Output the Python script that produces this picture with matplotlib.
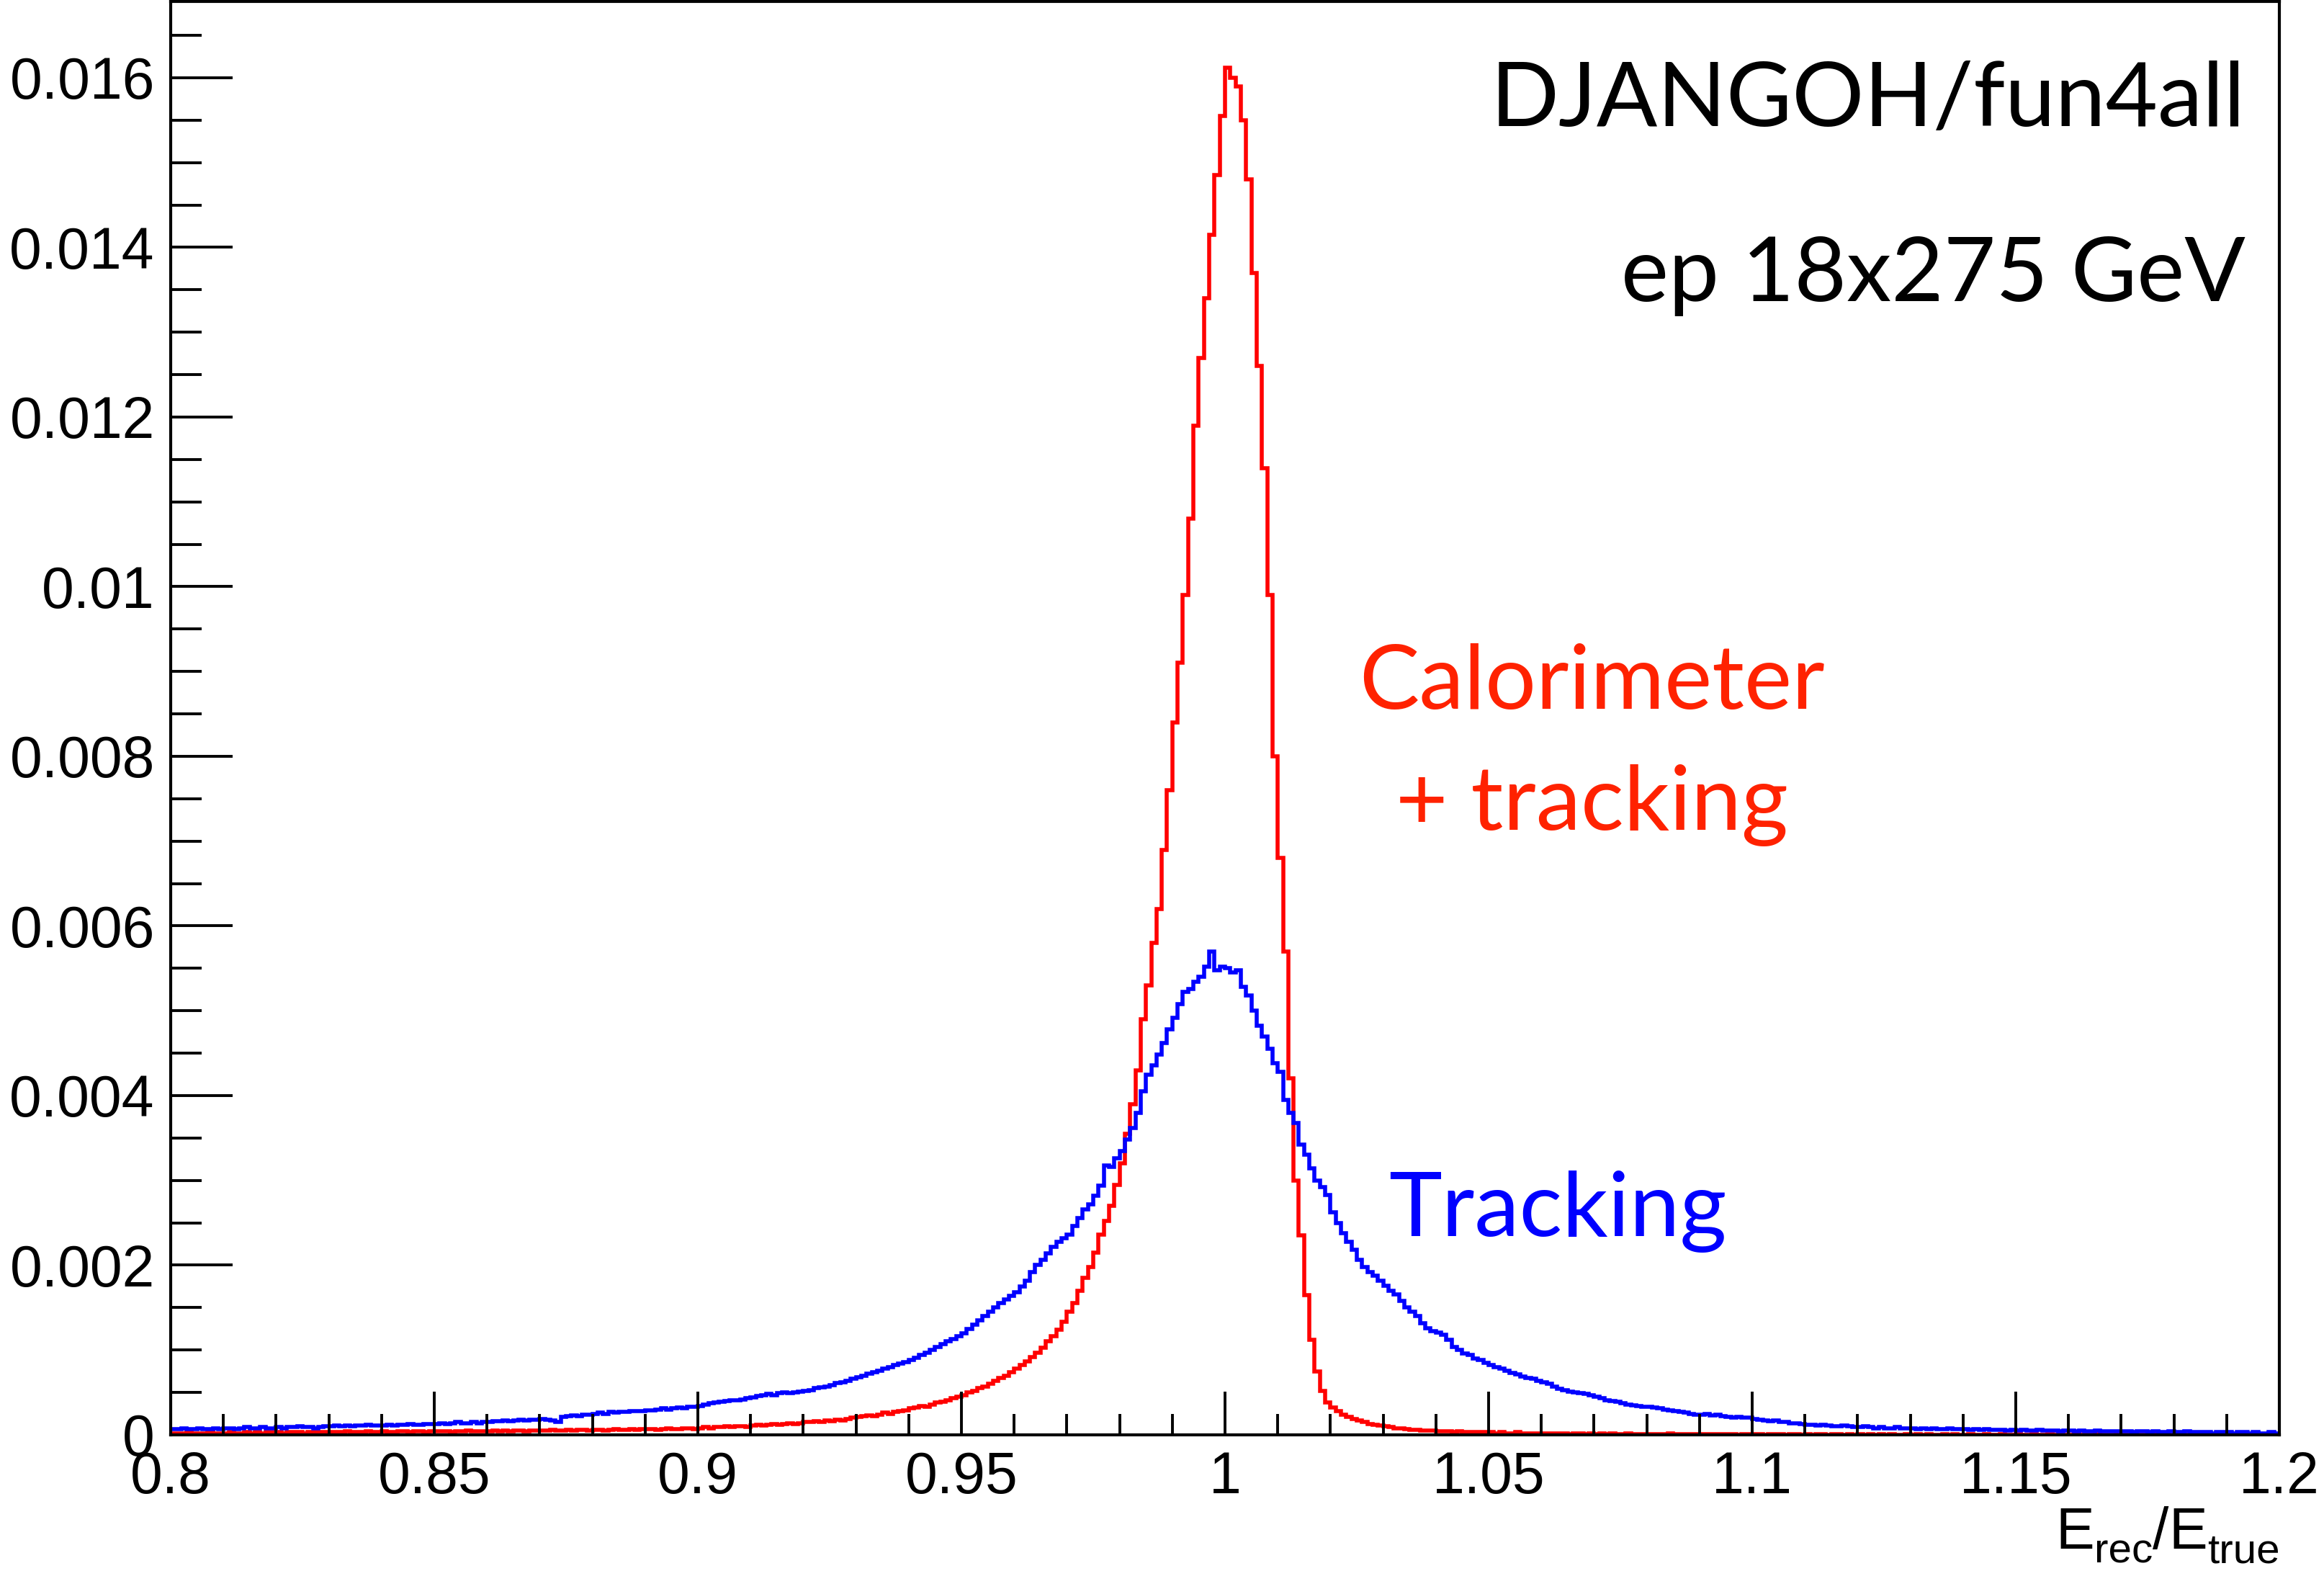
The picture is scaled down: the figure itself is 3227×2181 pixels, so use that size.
import numpy as np
import matplotlib
matplotlib.use("Agg")
import matplotlib.pyplot as plt
from matplotlib.transforms import IdentityTransform

# ---------------- data ----------------
x_range = (0.8, 1.2)
n_bins = 400
y_scale = 1e-5          # values below are given in units of 1e-5

# Calorimeter + tracking (red), one row = 0.01 in E_rec/E_true
calo_e5 = [
    2, 2, 2, 3, 2, 2, 2, 3, 2, 2,
    2, 3, 2, 2, 3, 2, 3, 2, 3, 3,
    3, 2, 3, 3, 3, 2, 3, 3, 3, 3,
    3, 3, 3, 4, 3, 3, 3, 4, 3, 3,
    4, 3, 3, 4, 4, 3, 4, 4, 3, 4,
    4, 4, 4, 3, 4, 4, 5, 4, 4, 4,
    4, 5, 4, 5, 4, 5, 5, 4, 5, 5,
    5, 5, 6, 5, 5, 6, 5, 6, 6, 5,
    6, 6, 5, 6, 7, 6, 6, 7, 6, 7,
    7, 7, 6, 7, 8, 7, 7, 8, 8, 7,
    8, 9, 8, 9, 9, 10, 9, 10, 10, 9,
    11, 12, 11, 12, 13, 12, 13, 14, 13, 14,
    15, 15, 16, 15, 17, 16, 18, 17, 19, 20,
    21, 22, 23, 22, 24, 26, 25, 27, 28, 29,
    31, 32, 34, 33, 36, 38, 39, 41, 43, 45,
    47, 50, 52, 55, 57, 60, 64, 67, 70, 74,
    78, 82, 87, 92, 97, 103, 110, 116, 124, 133,
    145, 155, 170, 185, 198, 215, 236, 252, 270, 295,
    320, 355, 390, 430, 490, 530, 580, 620, 690, 760,
    840, 910, 990, 1080, 1190, 1270, 1340, 1415, 1485, 1555,
    1612, 1600, 1590, 1550, 1480, 1370, 1260, 1140, 990, 800,
    680, 570, 420, 300, 235, 165, 112, 75, 52, 38,
    32, 28, 24, 21, 19, 17, 15, 13, 12, 11,
    10, 9, 8, 8, 7, 6, 6, 5, 5, 5,
    4, 4, 4, 3, 4, 3, 3, 3, 3, 3,
    3, 2, 3, 2, 2, 3, 2, 2, 2, 2,
    2, 2, 2, 2, 2, 1, 2, 2, 1, 2,
    1, 2, 1, 2, 1, 1, 2, 1, 1, 1,
    1, 1, 1, 1, 2, 1, 1, 1, 1, 1,
    1, 1, 1, 1, 1, 1, 1, 0, 1, 1,
    1, 1, 0, 1, 1, 1, 0, 1, 1, 0,
    1, 0, 1, 1, 0, 1, 1, 0, 1, 0,
    1, 0, 1, 0, 1, 0, 1, 0, 0, 1,
    0, 1, 0, 1, 0, 0, 1, 0, 1, 0,
    0, 1, 0, 0, 1, 0, 0, 1, 0, 0,
    1, 0, 0, 1, 0, 0, 1, 0, 0, 0,
    0, 1, 0, 0, 0, 1, 0, 0, 0, 1,
    0, 0, 1, 0, 0, 0, 1, 0, 0, 0,
    0, 0, 0, 1, 0, 0, 0, 0, 1, 0,
    0, 0, 0, 0, 1, 0, 0, 0, 0, 0,
]

# Tracking (blue)
track_e5 = [
    7, 7, 8, 7, 7, 8, 7, 7, 8, 7,
    8, 8, 7, 8, 9, 8, 8, 9, 8, 8,
    9, 8, 9, 9, 10, 9, 9, 8, 9, 10,
    10, 11, 10, 11, 10, 11, 11, 12, 11, 11,
    11, 12, 11, 12, 12, 13, 12, 12, 13, 13,
    13, 14, 13, 14, 15, 14, 14, 15, 14, 15,
    15, 16, 16, 17, 16, 17, 18, 17, 18, 18,
    19, 18, 17, 15, 21, 22, 23, 22, 24, 24,
    25, 26, 25, 27, 26, 27, 27, 28, 28, 28,
    29, 29, 30, 31, 30, 31, 32, 31, 33, 33,
    34, 36, 37, 38, 39, 40, 41, 41, 42, 43,
    44, 46, 47, 48, 47, 49, 50, 49, 50, 51,
    52, 53, 55, 56, 57, 59, 61, 62, 64, 66,
    68, 70, 72, 74, 76, 78, 80, 82, 84, 86,
    88, 91, 94, 97, 100, 104, 107, 110, 113, 116,
    120, 125, 130, 135, 140, 145, 150, 155, 160, 164,
    168, 175, 182, 192, 200, 206, 214, 222, 228, 232,
    236, 246, 256, 266, 272, 282, 294, 318, 316, 326,
    335, 348, 362, 380, 405, 425, 436, 448, 462, 478,
    492, 508, 522, 526, 534, 540, 552, 570, 548, 552,
    550, 545, 548, 528, 518, 500, 482, 470, 455, 438,
    428, 395, 380, 368, 342, 330, 314, 300, 292, 283,
    262, 250, 238, 228, 218, 206, 198, 192, 188, 182,
    176, 170, 166, 158, 150, 145, 140, 132, 126, 122,
    121, 118, 112, 104, 100, 96, 94, 90, 88, 85,
    82, 80, 78, 76, 73, 71, 69, 67, 66, 64,
    62, 60, 57, 54, 53, 51, 50, 49, 48, 47,
    45, 43, 41, 40, 39, 37, 36, 35, 34, 33,
    33, 32, 31, 30, 29, 28, 27, 26, 25, 24,
    24, 25, 23, 24, 22, 21, 20, 21, 20, 20,
    19, 18, 17, 16, 17, 15, 15, 14, 14, 13,
    12, 12, 11, 12, 11, 10, 10, 11, 10, 9,
    9, 10, 9, 8, 9, 8, 8, 9, 8, 8,
    8, 7, 8, 7, 8, 7, 7, 8, 7, 7,
    7, 6, 7, 6, 7, 6, 6, 6, 5, 6,
    5, 6, 5, 5, 6, 5, 5, 5, 4, 5,
    5, 4, 5, 4, 4, 5, 4, 4, 4, 4,
    4, 4, 3, 4, 4, 3, 4, 3, 3, 4,
    3, 3, 4, 3, 3, 3, 3, 2, 3, 3,
    3, 2, 3, 3, 2, 3, 2, 2, 3, 2,
]

x_ticks = [0.8, 0.85, 0.9, 0.95, 1.0, 1.05, 1.1, 1.15, 1.2]
x_ticklabels = ["0.8", "0.85", "0.9", "0.95", "1", "1.05", "1.1", "1.15", "1.2"]
y_ticks = [0, 0.002, 0.004, 0.006, 0.008, 0.01, 0.012, 0.014, 0.016]
y_ticklabels = ["0", "0.002", "0.004", "0.006", "0.008", "0.01", "0.012", "0.014", "0.016"]
y_max = 0.0169

# ---------------- plot ----------------
W, H = 3227, 2181
fig = plt.figure(figsize=(W / 100, H / 100), dpi=100)
ax = fig.add_axes([237 / W, 1 - 1992 / H, (3165 - 237) / W, (1992 - 2) / H])

edges = np.linspace(x_range[0], x_range[1], n_bins + 1)
calo = np.array(calo_e5) * y_scale
track = np.array(track_e5) * y_scale

ax.stairs(calo, edges, baseline=None, color="#ff0000", lw=4.0)
ax.stairs(track, edges, baseline=None, color="#0000ff", lw=4.0)

ax.set_xlim(*x_range)
ax.set_ylim(0, y_max)

tick_font = dict(family=["Liberation Sans", "DejaVu Sans"], size=58)
ax.set_xticks(x_ticks)
ax.set_xticklabels(x_ticklabels, fontdict=tick_font)
ax.set_yticks(y_ticks)
ax.set_yticklabels(y_ticklabels, fontdict=tick_font)
ax.set_xticks(np.arange(0.8, 1.2001, 0.01), minor=True)
ax.set_yticks(np.arange(0, 0.0169, 0.0005), minor=True)

ax.tick_params(axis="x", which="major", direction="in", length=43, width=2.8, pad=16,
               top=False)
ax.tick_params(axis="x", which="minor", direction="in", length=21, width=2.8, top=False)
ax.tick_params(axis="y", which="major", direction="in", length=62, width=2.8, pad=16,
               right=False)
ax.tick_params(axis="y", which="minor", direction="in", length=31, width=2.8, right=False)
for sp in ax.spines.values():
    sp.set_linewidth(3.0)

ann_font = ["Lato", "DejaVu Sans"]
ann_size = 90
fig.text(3118 / W, 1 - 175 / H, "DJANGOH/fun4all", ha="right", va="baseline",
         family=ann_font, size=ann_size, color="black")
fig.text(3118 / W, 1 - 418 / H, "ep 18x275 GeV", ha="right", va="baseline",
         family=ann_font, size=ann_size, color="black")
fig.text(2210 / W, 1 - 984 / H, "Calorimeter", ha="center", va="baseline",
         family=ann_font, size=ann_size, color="#ff2200")
fig.text(2210 / W, 1 - 1152 / H, "+ tracking", ha="center", va="baseline",
         family=ann_font, size=ann_size, color="#ff2200")
fig.text(1928 / W, 1 - 1716 / H, "Tracking", ha="left", va="baseline",
         family=ann_font, size=ann_size, color="#0000ff")

# x-axis title E_rec/E_true, right-aligned to the axis end
fig.canvas.draw()
renderer = fig.canvas.get_renderer()
parts = [("true", 42, -20), ("E", 58, 0), ("/", 58, 0), ("rec", 42, -20), ("E", 58, 0)]
x_right = 3166
base_y = H - 2150
for s, size, dy in parts:
    t = fig.text(x_right, base_y + dy, s, ha="right", va="baseline",
                 family=["Liberation Sans", "DejaVu Sans"], size=size,
                 transform=IdentityTransform())
    bb = t.get_window_extent(renderer)
    x_right = bb.x0

fig.savefig("out.png", dpi=100)
